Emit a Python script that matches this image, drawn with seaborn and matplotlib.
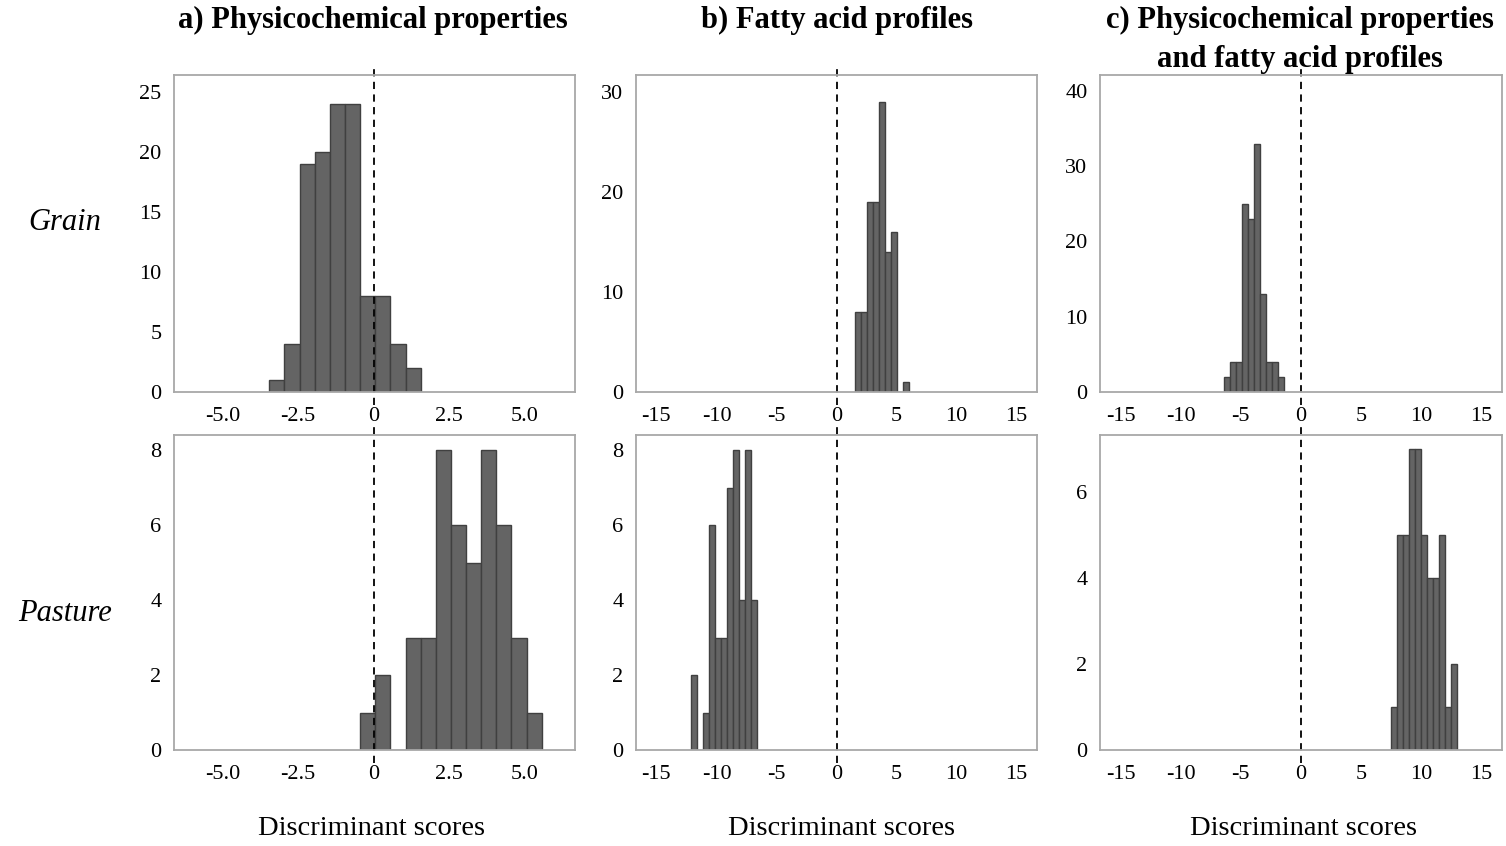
import numpy as np
import pandas as pd
import seaborn as sns
import matplotlib.pyplot as plt

# Conteos por barra y borde izquierdo del primer bin
a_grain_counts = [1, 4, 19, 20, 24, 24, 8, 8, 4, 2]
a_grain_start = -3.45
a_pasture_counts = [1, 2, 0, 3, 3, 8, 6, 5, 8, 6, 3, 1]
a_pasture_start = -0.45

b_grain_counts = [8, 8, 19, 19, 29, 14, 16, 0, 1]
b_grain_start = 1.5
b_pasture_counts = [2, 0, 1, 6, 3, 3, 7, 8, 4, 8, 4]
b_pasture_start = -12.1

c_grain_counts = [2, 4, 4, 25, 23, 33, 13, 4, 4, 2]
c_grain_start = -6.4
c_pasture_counts = [1, 5, 5, 7, 7, 5, 4, 4, 5, 1, 2]
c_pasture_start = 7.45

bin_width = 0.5

titles = ["a) Physicochemical properties", "b) Fatty acid profiles",
          "c) Physicochemical properties\nand fatty acid profiles"]
row_labels = ["Grain", "Pasture"]

a_xticks = [-5.0, -2.5, 0, 2.5, 5.0]
a_xticklabels = ["-5.0", "-2.5", "0", "2.5", "5.0"]
bc_xticks = [-15, -10, -5, 0, 5, 10, 15]

sns.set_style("white")
plt.rcParams["font.family"] = ["Liberation Serif", "DejaVu Serif"]
plt.rcParams["axes.unicode_minus"] = False
plt.rcParams["text.color"] = "black"

W, H = 1506, 846
fig = plt.figure(figsize=(W / 100, H / 100), dpi=100)


def px_axes(left, top, right, bottom):
    return fig.add_axes([left / W, 1 - bottom / H, (right - left) / W, (bottom - top) / H])


cols = [(174, 575), (636, 1037), (1100, 1502)]
rows = [(75, 392), (435, 750)]

panels = [
    [(a_grain_counts, a_grain_start, 26.4, [0, 5, 10, 15, 20, 25]),
     (a_pasture_counts, a_pasture_start, 8.4, [0, 2, 4, 6, 8])],
    [(b_grain_counts, b_grain_start, 31.7, [0, 10, 20, 30]),
     (b_pasture_counts, b_pasture_start, 8.4, [0, 2, 4, 6, 8])],
    [(c_grain_counts, c_grain_start, 42.1, [0, 10, 20, 30, 40]),
     (c_pasture_counts, c_pasture_start, 7.33, [0, 2, 4, 6])],
]

for j, (l, r) in enumerate(cols):
    for i, (t, b) in enumerate(rows):
        counts, start, ytop, yticks = panels[j][i]
        edges = start + bin_width * np.arange(len(counts) + 1)
        df = pd.DataFrame({"score": (edges[:-1] + edges[1:]) / 2, "n": counts})
        ax = px_axes(l, t, r, b)
        sns.histplot(data=df, x="score", weights="n", binwidth=bin_width,
                     binrange=(edges[0], edges[-1]), ax=ax,
                     color="#646464", edgecolor="#404040", linewidth=1.0, alpha=1)
        ax.axvline(0, ymin=-0.04, ymax=1.025, color="black", ls=(0, (4, 3)),
                   lw=1.3, clip_on=False)
        if j == 0:
            ax.set_xlim(-6.6, 6.65)
            ax.set_xticks(a_xticks)
            ax.set_xticklabels(a_xticklabels)
        else:
            ax.set_xlim(-16.7, 16.7)
            ax.set_xticks(bc_xticks)
        ax.set_ylim(0, ytop)
        ax.set_yticks(yticks)
        ax.set_xlabel("")
        ax.set_ylabel("")
        for s in ax.spines.values():
            s.set_color("#a8a8a8")
            s.set_linewidth(1.3)
        ax.tick_params(axis="both", labelsize=16, length=4, width=1,
                       color="#808080", labelcolor="black", direction="out")
        ax.tick_params(axis="x", pad=7)
        ax.tick_params(axis="y", pad=5)

# Titulos de columnas
title_x = [373, 837, 1300]
for x, txt in zip(title_x, titles):
    fig.text(x / W, 1 - 6 / H, txt, ha="center", va="top", fontsize=22,
             fontweight="bold", linespacing=1.45)

# Etiquetas de filas
fig.text(65 / W, 1 - 222 / H, row_labels[0], ha="center", va="center",
         fontsize=22, style="italic")
fig.text(65 / W, 1 - 613 / H, row_labels[1], ha="center", va="center",
         fontsize=22, style="italic")

# Etiqueta eje x
for x in [371, 842, 1304]:
    fig.text(x / W, 1 - 828 / H, "Discriminant scores", ha="center",
             va="center", fontsize=20.5)

fig.savefig("out.png", dpi=100, facecolor="white")
